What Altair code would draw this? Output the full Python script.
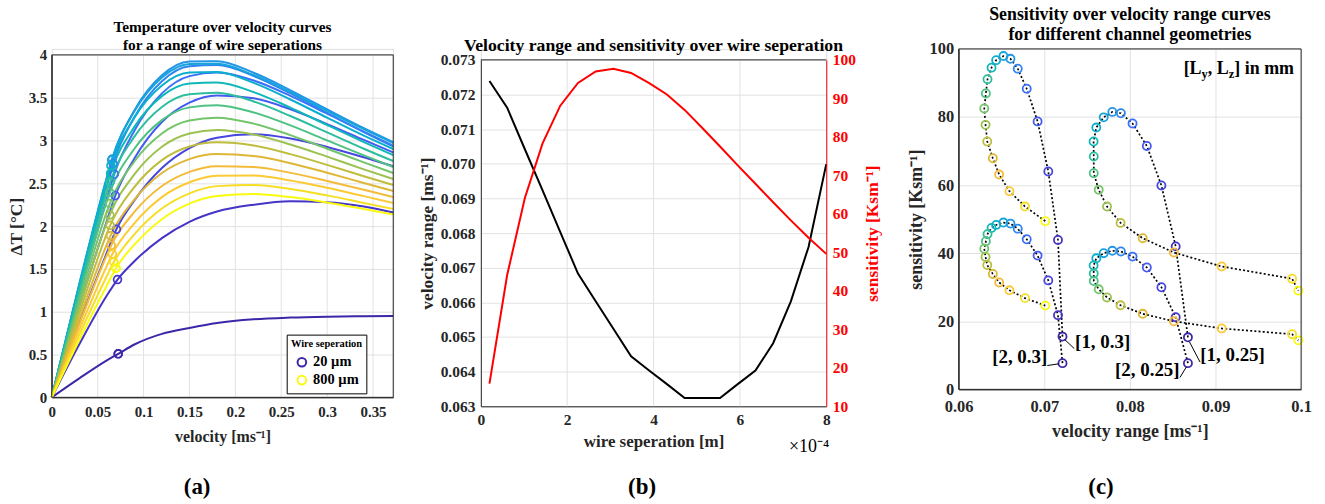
import altair as alt
import pandas as pd

FONT = "Liberation Serif"
AXC = "#262626"
GRID = "#e2e2e2"

# ---------------- data ----------------
PARULA = ["#3E26A8", "#4434C8", "#4746E0", "#445AF0", "#3A6FF8", "#2E85F2", "#2395E6",
          "#17A3DB", "#0BAFCE", "#0FB8B8", "#2CBE9E", "#4EC283", "#74C46A", "#9BC251",
          "#BEBD3D", "#DDB735", "#F3BB3A", "#FCCA33", "#F6DE25", "#F9FB0E"]

SEP_UM = [20, 61, 102, 143, 184, 225, 266, 307, 348, 389, 431, 472, 513, 554, 595,
          636, 677, 718, 759, 800]
LEGEND_LABELS = ["20 µm", "800 µm"]

# panel (a): temperature over velocity
V_SAMPLES = [0, 0.03, 0.06, 0.09, 0.12, 0.15, 0.18, 0.22, 0.26, 0.30, 0.34, 0.372]
DT_CURVES = [
    [0, 0.222, 0.432, 0.617, 0.741, 0.810, 0.868, 0.912, 0.932, 0.942, 0.947, 0.950],
    [0, 0.620, 1.190, 1.590, 1.860, 2.050, 2.170, 2.250, 2.290, 2.280, 2.230, 2.160],
    [0, 0.870, 1.689, 2.300, 2.678, 2.911, 3.032, 3.072, 3.023, 2.925, 2.804, 2.700],
    [0, 1.062, 2.063, 2.791, 3.216, 3.442, 3.526, 3.494, 3.364, 3.192, 3.007, 2.860],
    [0, 1.195, 2.321, 3.114, 3.550, 3.752, 3.793, 3.700, 3.521, 3.313, 3.102, 2.940],
    [0, 1.275, 2.476, 3.273, 3.692, 3.867, 3.881, 3.754, 3.550, 3.323, 3.099, 2.930],
    [0, 1.316, 2.556, 3.351, 3.761, 3.923, 3.926, 3.791, 3.586, 3.362, 3.143, 2.980],
    [0, 1.325, 2.574, 3.341, 3.737, 3.894, 3.896, 3.765, 3.565, 3.346, 3.132, 2.970],
    [0, 1.310, 2.545, 3.267, 3.642, 3.793, 3.799, 3.673, 3.479, 3.266, 3.056, 2.900],
    [0, 1.275, 2.476, 3.159, 3.518, 3.666, 3.678, 3.565, 3.384, 3.181, 2.982, 2.830],
    [0, 1.234, 2.398, 3.045, 3.392, 3.539, 3.557, 3.456, 3.286, 3.095, 2.904, 2.760],
    [0, 1.180, 2.292, 2.904, 3.238, 3.387, 3.413, 3.328, 3.176, 3.001, 2.826, 2.690],
    [0, 1.117, 2.169, 2.755, 3.082, 3.233, 3.266, 3.197, 3.063, 2.904, 2.744, 2.620],
    [0, 1.051, 2.042, 2.604, 2.927, 3.082, 3.124, 3.071, 2.953, 2.811, 2.663, 2.550],
    [0, 0.985, 1.913, 2.456, 2.771, 2.930, 2.979, 2.942, 2.841, 2.715, 2.583, 2.480],
    [0, 0.920, 1.787, 2.310, 2.620, 2.783, 2.842, 2.819, 2.735, 2.623, 2.504, 2.410],
    [0, 0.855, 1.660, 2.165, 2.468, 2.634, 2.700, 2.690, 2.622, 2.527, 2.424, 2.340],
    [0, 0.791, 1.536, 2.033, 2.339, 2.512, 2.589, 2.592, 2.534, 2.448, 2.350, 2.270],
    [0, 0.730, 1.417, 1.903, 2.205, 2.383, 2.467, 2.480, 2.434, 2.359, 2.271, 2.200],
    [0, 0.673, 1.307, 1.783, 2.081, 2.262, 2.351, 2.374, 2.339, 2.275, 2.199, 2.136],
]
# velocity range (marker position) and temperature at that velocity
VEL_RANGE = [0.07239, 0.07162, 0.07042, 0.06923, 0.06803, 0.06683, 0.06603, 0.06524,
             0.06444, 0.06404, 0.06364, 0.06324, 0.06324, 0.06324, 0.06364, 0.06403,
             0.06482, 0.06603, 0.06760, 0.06999]
MARKER_DT = [0.508, 1.376, 1.963, 2.357, 2.606, 2.731, 2.785, 2.771, 2.706, 2.617,
             2.518, 2.392, 2.263, 2.131, 2.009, 1.888, 1.776, 1.674, 1.581, 1.509]

# panel (b): sensitivity over wire separation
SENSITIVITY = [15.9, 44.1, 64.1, 78.3, 88.1, 94.0, 97.0, 97.7, 96.6, 94.0, 91.0, 87.0,
               82.3, 77.5, 72.6, 67.8, 63.0, 58.3, 53.8, 49.6]

# panel (c): four channel geometries
GEOMS = ["[1, 0.3]", "[2, 0.3]", "[1, 0.25]", "[2, 0.25]"]
GEOM_VR = [
    [0.07213, 0.0716, 0.07047, 0.06922, 0.06795, 0.0669, 0.06605, 0.06523, 0.06438, 0.06384,
     0.06337, 0.06318, 0.06299, 0.06314, 0.06334, 0.06399, 0.06473, 0.06593, 0.06775, 0.07012],
    [0.07213, 0.0716, 0.07047, 0.06922, 0.06795, 0.0669, 0.06605, 0.06523, 0.06438, 0.06384,
     0.06337, 0.06318, 0.06299, 0.06314, 0.06334, 0.06399, 0.06473, 0.06593, 0.06775, 0.07012],
    [0.08678, 0.08535, 0.08368, 0.08198, 0.08031, 0.07895, 0.07795, 0.07694, 0.07608, 0.07576,
     0.07578, 0.07578, 0.07636, 0.07733, 0.07891, 0.08150, 0.08514, 0.09072, 0.09895, 0.09968],
    [0.08678, 0.08535, 0.08368, 0.08198, 0.08031, 0.07895, 0.07795, 0.07694, 0.07608, 0.07576,
     0.07578, 0.07578, 0.07636, 0.07733, 0.07891, 0.08150, 0.08514, 0.09072, 0.09895, 0.09968],
]
GEOM_SENS = [
    [15.5, 43.9, 64.0, 78.7, 88.3, 94.2, 97.1, 97.9, 96.7, 94.5, 91.1, 86.9, 82.5, 77.7,
     72.8, 67.9, 63.1, 58.2, 53.7, 49.4],
    [7.7, 21.8, 32.0, 39.3, 44.1, 47.2, 48.7, 49.0, 48.3, 47.4, 45.6, 43.5, 41.3, 38.9,
     36.5, 33.9, 31.4, 29.1, 26.8, 24.6],
    [15.3, 42.0, 59.9, 71.5, 78.1, 81.1, 81.5, 79.9, 76.9, 72.8, 68.4, 63.5, 58.6, 53.7,
     48.9, 44.4, 40.2, 36.1, 32.5, 29.0],
    [7.7, 21.2, 30.0, 35.8, 39.0, 40.5, 40.7, 40.0, 38.5, 36.4, 34.0, 31.8, 29.4, 27.0,
     24.7, 22.2, 20.0, 17.9, 16.2, 14.4],
]

X_TICKS_A = [0, 0.05, 0.1, 0.15, 0.2, 0.25, 0.3, 0.35]
Y_TICKS_A = [0, 0.5, 1, 1.5, 2, 2.5, 3, 3.5, 4]
X_TICKS_B = [0, 200, 400, 600, 800]
Y_TICKS_BL = [0.063, 0.064, 0.065, 0.066, 0.067, 0.068, 0.069, 0.070, 0.071, 0.072, 0.073]
Y_TICKS_BR = [10, 20, 30, 40, 50, 60, 70, 80, 90, 100]
X_TICKS_C = [0.06, 0.07, 0.08, 0.09, 0.1]
Y_TICKS_C = [0, 20, 40, 60, 80, 100]

# ---------------- helpers ----------------
ONE = alt.Data(values=[{}])


def axis(values, title, fmt=None, lsize=15, tsize=16, lpad=6, tpad=8, grid=False,
         color=AXC, **kw):
    opts = dict(values=values, title=title, grid=grid, gridColor=GRID, ticks=False,
                labelFlush=False, labelOverlap=False, labelFont=FONT, labelFontSize=lsize,
                labelFontWeight="bold", labelColor=color, labelPadding=lpad,
                titleFont=FONT, titleFontSize=tsize, titleFontWeight="bold",
                titleColor=color, titlePadding=tpad, domainColor=color, labelLimit=300)
    if fmt:
        opts["format"] = fmt
    opts.update(kw)
    return alt.Axis(**opts)


def text_mark(s, x, y, size, weight="bold", color="black", align="center", dx=0, dy=0):
    return alt.Chart(ONE).mark_text(
        text=s, font=FONT, fontSize=size, fontWeight=weight, color=color,
        align=align, baseline="middle", dx=dx, dy=dy
    ).encode(x=alt.value(x), y=alt.value(y))


def spacer(left, right, top):
    return alt.Chart(ONE).mark_rule(strokeOpacity=0).encode(
        x=alt.value(left), x2=alt.value(right), y=alt.value(top))


# ---------------- panel (a) ----------------
W_A, H_A = 343, 350
SX_A = alt.Scale(domain=[0, 0.372])
SY_A = alt.Scale(domain=[0, 4], range=[H_A, 6])
AX_AX = axis(X_TICKS_A, "velocity [ms⁻¹]", ".2~f", lpad=7, tpad=9)
AX_AY = axis(Y_TICKS_A, "ΔT [°C]", ".1~f", lpad=5, tpad=3, tsize=17.5, grid=True)
COL_SCALE = alt.Scale(domain=list(range(20)), range=PARULA)

rows = []
for i, curve in enumerate(DT_CURVES):
    pts = sorted(list(zip(V_SAMPLES, curve)) + [(VEL_RANGE[i], MARKER_DT[i])])
    for v, t in pts:
        rows.append({"sep": i, "v": v, "dT": t})
df_a = pd.DataFrame(rows)
df_am = pd.DataFrame({"sep": list(range(20)), "v": VEL_RANGE, "dT": MARKER_DT})
df_leg = df_am.iloc[[0, 19]].copy()
df_leg["leg"] = LEGEND_LABELS

grid_a = alt.Chart(pd.DataFrame({"t": X_TICKS_A[1:]})).mark_rule(
    color=GRID, strokeWidth=1).encode(
    x=alt.X("t:Q", scale=SX_A, axis=AX_AX),
    y=alt.YDatum(0, scale=SY_A, axis=AX_AY), y2=alt.datum(4))

lines_a = alt.Chart(df_a).mark_line(strokeWidth=2, interpolate="monotone").encode(
    x=alt.X("v:Q", scale=SX_A, axis=AX_AX),
    y=alt.Y("dT:Q", scale=SY_A, axis=AX_AY),
    color=alt.Color("sep:N", scale=COL_SCALE, legend=None))

marks_a = alt.Chart(df_am).mark_point(shape="circle", filled=False, size=62,
                                      strokeWidth=1.7, opacity=1).encode(
    x=alt.X("v:Q", scale=SX_A, axis=AX_AX),
    y=alt.Y("dT:Q", scale=SY_A, axis=AX_AY),
    color=alt.Color("sep:N", scale=COL_SCALE, legend=None))

legend_a = alt.Chart(df_leg).mark_point(shape="circle", filled=False, size=62,
                                        strokeWidth=1.7, opacity=1).encode(
    x=alt.X("v:Q", scale=SX_A, axis=AX_AX),
    y=alt.Y("dT:Q", scale=SY_A, axis=AX_AY),
    color=alt.Color("leg:N", scale=alt.Scale(domain=LEGEND_LABELS,
                                             range=[PARULA[0], PARULA[19]]),
                    legend=alt.Legend(title="Wire seperation", orient="none",
                                      legendX=236, legendY=287, direction="vertical",
                                      titleFont=FONT, titleFontSize=10.5,
                                      titleFontWeight="bold", titleColor="black",
                                      titleAnchor="middle",
                                      labelFont=FONT, labelFontSize=14.5,
                                      labelFontWeight="bold", labelColor="black",
                                      symbolType="circle", symbolSize=75,
                                      symbolStrokeWidth=2, strokeColor="black",
                                      fillColor="white", padding=4, rowPadding=0,
                                      titlePadding=6, labelOffset=4)))

box_a = alt.Chart(ONE).mark_rect(fillOpacity=0, stroke=AXC, strokeWidth=1).encode(
    x=alt.XDatum(0, scale=SX_A, axis=AX_AX), x2=alt.datum(0.372),
    y=alt.YDatum(0, scale=SY_A, axis=AX_AY), y2=alt.datum(4))

panel_a = alt.layer(
    grid_a, lines_a, marks_a, legend_a, box_a,
    text_mark("Temperature over velocity curves", W_A / 2, -22, 15.4),
    text_mark("for a range of wire seperations", W_A / 2, -4, 15.4),
    text_mark("(a)", 146, 440, 23),
    spacer(-51, 359, -47),
).resolve_scale(color="independent").properties(width=W_A, height=H_A)

# ---------------- panel (b) ----------------
W_B, H_B = 347, 359
SX_B = alt.Scale(domain=[0, 800])
SY_BL = alt.Scale(domain=[0.063, 0.073], range=[H_B, 11])
SY_BR = alt.Scale(domain=[10, 100], range=[H_B, 11])
AX_BX = axis(X_TICKS_B, "wire seperation [m]", lsize=15.5, tsize=17, lpad=6, tpad=6,
             labelExpr="datum.value / 100")
AX_BL = axis(Y_TICKS_BL, "velocity range [ms⁻¹]", ".3f", lsize=15.5, tsize=17.5, lpad=6,
             tpad=4, grid=True)
AX_BR = axis(Y_TICKS_BR, "sensitivity [Ksm⁻¹]", lsize=15.5, tsize=17.5, lpad=6, tpad=8,
             color="#FF0000", orient="right", titleAngle=270, titleBaseline="top",
             zindex=1)
df_b = pd.DataFrame({"sep": SEP_UM, "vr": VEL_RANGE, "sens": SENSITIVITY})

grid_b = alt.Chart(pd.DataFrame({"t": X_TICKS_B[1:-1]})).mark_rule(
    color=GRID, strokeWidth=1).encode(
    x=alt.X("t:Q", scale=SX_B, axis=AX_BX),
    y=alt.YDatum(0.063, scale=SY_BL, axis=AX_BL), y2=alt.datum(0.073))

black_b = alt.Chart(df_b).mark_line(color="black", strokeWidth=2).encode(
    x=alt.X("sep:Q", scale=SX_B, axis=AX_BX),
    y=alt.Y("vr:Q", scale=SY_BL, axis=AX_BL))

top_b = alt.Chart(ONE).mark_rule(color=AXC, strokeWidth=1).encode(
    x=alt.XDatum(0, scale=SX_B, axis=AX_BX), x2=alt.datum(800),
    y=alt.YDatum(0.073, scale=SY_BL, axis=AX_BL))

red_b = alt.Chart(df_b).mark_line(color="#FF0000", strokeWidth=2).encode(
    x=alt.X("sep:Q", scale=SX_B, axis=AX_BX),
    y=alt.Y("sens:Q", scale=SY_BR, axis=AX_BR))

panel_b = alt.layer(
    alt.layer(grid_b, black_b, top_b), red_b,
    text_mark("Velocity range and sensitivity over wire seperation", W_B / 2, -3, 17.8),
    text_mark("×10⁻⁴", W_B + 3, 400, 18, weight="normal", align="right"),
    text_mark("(b)", 162, 440, 23),
    spacer(-70, 415, -47),
).resolve_scale(y="independent").properties(width=W_B, height=H_B)

# ---------------- panel (c) ----------------
W_C, H_C = 344, 342
SX_C = alt.Scale(domain=[0.06, 0.1])
SY_C = alt.Scale(domain=[0, 100])
AX_CX = axis(X_TICKS_C, "velocity range [ms⁻¹]", ".2~f", lsize=16.5, tsize=18, lpad=9,
             tpad=8, grid=True)
AX_CY = axis(Y_TICKS_C, "sensitivity [Ksm⁻¹]", lsize=16.5, tsize=18, lpad=5, tpad=4,
             grid=True)

rows = []
for g, xs, ys in zip(GEOMS, GEOM_VR, GEOM_SENS):
    for i, (x, y) in enumerate(zip(xs, ys)):
        rows.append({"geom": g, "idx": i, "vr": x, "sens": y})
df_c = pd.DataFrame(rows)

lines_c = alt.Chart(df_c).mark_line(color="black", strokeWidth=1.7,
                                    strokeDash=[2, 2.2]).encode(
    x=alt.X("vr:Q", scale=SX_C, axis=AX_CX),
    y=alt.Y("sens:Q", scale=SY_C, axis=AX_CY),
    detail="geom:N", order="idx:Q")

pts_c = alt.Chart(df_c).mark_point(shape="circle", filled=False, size=66,
                                   strokeWidth=1.8, opacity=1).encode(
    x=alt.X("vr:Q", scale=SX_C, axis=AX_CX),
    y=alt.Y("sens:Q", scale=SY_C, axis=AX_CY),
    color=alt.Color("idx:N", scale=COL_SCALE, legend=None))

# label anchors (data coordinates) and leader lines
lab_left = pd.DataFrame({"t": [GEOMS[0], GEOMS[2]], "x": [0.0736, 0.08822],
                         "y": [13.8, 10.2]})
lab_right = pd.DataFrame({"t": [GEOMS[1], GEOMS[3]], "x": [0.07035, 0.08581],
                          "y": [9.4, 5.6]})
leaders = pd.DataFrame({"x": [0.0724, 0.07035, 0.08695, 0.08585],
                        "y": [14.6, 7.0, 14.0, 3.5],
                        "x2": [0.0735, 0.0717, 0.0882, 0.0866],
                        "y2": [12.0, 7.5, 8.0, 6.6]})

leader_c = alt.Chart(leaders).mark_rule(color="black", strokeWidth=1).encode(
    x=alt.X("x:Q", scale=SX_C, axis=AX_CX), y=alt.Y("y:Q", scale=SY_C, axis=AX_CY),
    x2="x2:Q", y2="y2:Q")


def data_text(df, align):
    return alt.Chart(df).mark_text(font=FONT, fontSize=19, fontWeight="bold",
                                   color="black", align=align, baseline="middle").encode(
        x=alt.X("x:Q", scale=SX_C, axis=AX_CX), y=alt.Y("y:Q", scale=SY_C, axis=AX_CY),
        text="t:N")


lylz_parts = [("[L", 0, 0, 18), ("y", 18, 5, 12.5), (", L", 24.3, 0, 18),
              ("z", 45.3, 5, 12.5), ("] in mm", 50.9, 0, 18)]
lylz = [alt.Chart(pd.DataFrame({"x": [0.08628], "y": [94.2]})).mark_text(
    text=s, font=FONT, fontSize=fs, fontWeight="bold", color="black", align="left",
    baseline="middle", dx=dx, dy=dy).encode(
    x=alt.X("x:Q", scale=SX_C, axis=AX_CX), y=alt.Y("y:Q", scale=SY_C, axis=AX_CY))
    for s, dx, dy, fs in lylz_parts]

box_c = alt.Chart(ONE).mark_rect(fillOpacity=0, stroke=AXC, strokeWidth=1).encode(
    x=alt.XDatum(0.06, scale=SX_C, axis=AX_CX), x2=alt.datum(0.1),
    y=alt.YDatum(0, scale=SY_C, axis=AX_CY), y2=alt.datum(100))

panel_c = alt.layer(
    lines_c, pts_c, leader_c, data_text(lab_left, "left"), data_text(lab_right, "right"),
    *lylz, box_c,
    text_mark("Sensitivity over velocity range curves", W_C / 2, -34, 17.9),
    text_mark("for different channel geometries", W_C / 2, -14, 17.9),
    text_mark("(c)", 143, 440, 23),
    spacer(-63, 367, -47),
).properties(width=W_C, height=H_C)

chart = alt.hconcat(panel_a, panel_b, panel_c, spacing=0).properties(
    padding=0
).configure_view(strokeOpacity=0).configure(font=FONT)

chart.save("out.html", embed_options={"renderer": "svg", "actions": False})
